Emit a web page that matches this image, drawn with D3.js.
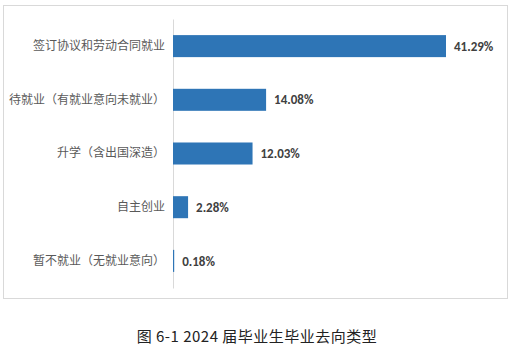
<!DOCTYPE html>
<html>
<head>
<meta charset="utf-8">
<script src="https://cdn.jsdelivr.net/npm/d3@7"></script>
<style>
	body { margin: 0; background: #fff; }
	svg { display: block; }
</style>
</head>
<body>
<svg id="chart" width="514" height="353"></svg>
<script>
const categories = [
	'签订协议和劳动合同就业',
	'待就业（有就业意向未就业）',
	'升学（含出国深造）',
	'自主创业',
	'暂不就业（无就业意向）'
]
const values = [41.29, 14.08, 12.03, 2.28, 0.18]
const caption = '图 6-1  2024 届毕业生毕业去向类型'

const svg = d3.select('#chart')
const width = 514
const margin = { top: 19, right: 62, bottom: 66, left: 173 }
const plotBottom = 353 - margin.bottom

// outer frame
svg.append('rect')
	.attr('x', 3.5)
	.attr('y', 5.5)
	.attr('width', 504)
	.attr('height', 293)
	.attr('fill', '#fff')
	.attr('stroke', '#d9d9d9')
	.attr('stroke-width', 1)

const x = d3.scaleLinear()
	.domain([0, 41.29])
	.range([margin.left, 446])

const y = d3.scaleBand()
	.domain(categories)
	.range([margin.top, plotBottom + 1])
	.paddingInner(0.59)
	.paddingOuter(0.3)

// category axis (drawn under the bars)
const axis = svg.append('g')
	.attr('transform', `translate(${x(0)},0)`)
	.call(d3.axisLeft(y).tickSize(0).tickPadding(8))
axis.select('.domain')
	.attr('stroke', '#d9d9d9')
	.attr('stroke-width', 1)
axis.selectAll('text')
	.attr('fill', '#595959')
	.style('font-family', '"Noto Sans CJK SC", sans-serif')
	.style('font-size', '12px')

svg.append('g')
	.selectAll('rect')
	.data(values)
	.join('rect')
	.attr('x', x(0))
	.attr('y', (d, i) => y(categories[i]))
	.attr('width', d => Math.max(1.2, x(d) - x(0)))
	.attr('height', y.bandwidth())
	.attr('fill', '#2e75b6')

svg.append('g')
	.selectAll('text')
	.data(values)
	.join('text')
	.attr('x', d => Math.max(x(d), x(0) + 1) + 8)
	.attr('y', (d, i) => y(categories[i]) + y.bandwidth() / 2)
	.attr('dy', '0.36em')
	.attr('fill', '#404040')
	.style('font-family', 'Calibri, Carlito, "Open Sans", sans-serif')
	.style('font-size', '13px')
	.style('font-weight', 'bold')
	.text(d => d.toFixed(2) + '%')

svg.append('text')
	.attr('x', width / 2)
	.attr('y', 342)
	.attr('text-anchor', 'middle')
	.attr('fill', '#222')
	.style('font-family', '"Noto Sans CJK SC", sans-serif')
	.style('font-size', '15px')
	.style('letter-spacing', '0.5px')
	.text(caption)
</script>
</body>
</html>
